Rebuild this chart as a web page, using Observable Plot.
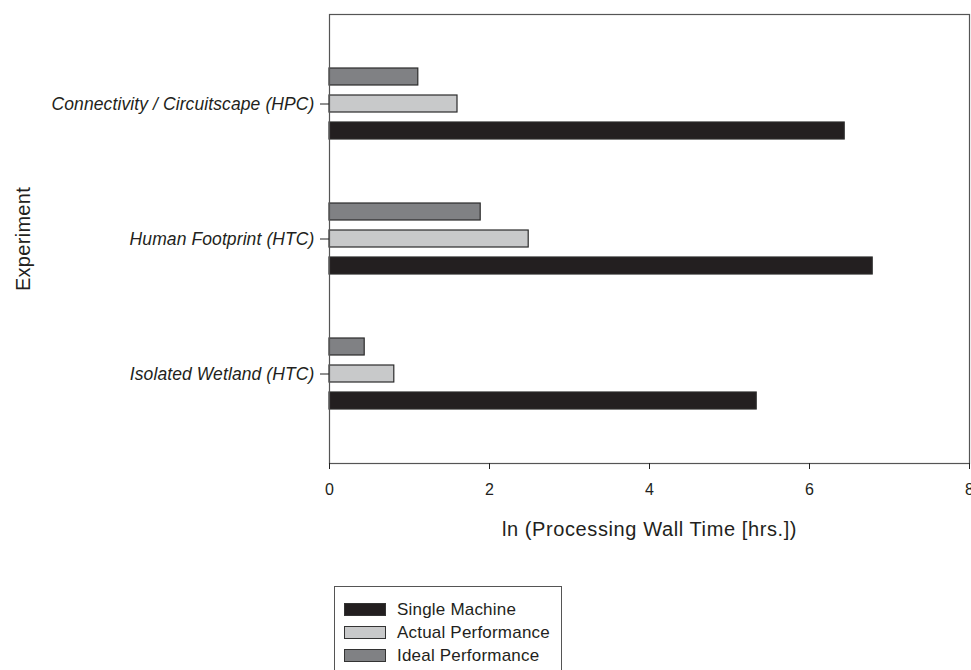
<!DOCTYPE html>
<html>
<head>
<meta charset="utf-8">
<script src="https://cdn.jsdelivr.net/npm/d3@7"></script>
<script src="https://cdn.jsdelivr.net/npm/@observablehq/plot@0.6"></script>
<style>
  html, body { margin: 0; padding: 0; background: #fff; overflow: hidden; }
  #chart svg { overflow: visible; display: block; }
  .legend { position: absolute; left: 334px; top: 586px; width: 228px; height: 100px;
    border: 1px solid #555; border-bottom: none; box-sizing: border-box;
    font-family: "Liberation Sans", Arial, sans-serif; font-size: 17px; color: #231f20; padding-top: 11px; letter-spacing: 0.2px; }
  .legend .row { display: flex; align-items: center; height: 23px; margin-left: 9px; }
  .legend .sw { width: 42px; height: 13px; border: 1.3px solid #333; box-sizing: border-box; margin-right: 11px; }
</style>
</head>
<body>
<div id="chart"></div>
<script>
const experiments = ["Connectivity / Circuitscape (HPC)", "Human Footprint (HTC)", "Isolated Wetland (HTC)"];
const series = ["Ideal Performance", "Actual Performance", "Single Machine"];
const idealPerformance = [1.11, 1.89, 0.44];
const actualPerformance = [1.60, 2.49, 0.81];
const singleMachine = [6.44, 6.79, 5.34];
const seriesColors = ["#808184", "#c8c9ca", "#231f20"];
const xTicks = [0, 2, 4, 6, 8];
const legendOrder = ["Single Machine", "Actual Performance", "Ideal Performance"];

const valuesBySeries = [idealPerformance, actualPerformance, singleMachine];
const data = [];
experiments.forEach((e, i) => series.forEach((s, j) => data.push({experiment: e, series: s, key: e + "|" + s, value: valuesBySeries[j][i]})));

// y band domain: 3 bars per experiment, 2 empty slots between groups
const yDomain = [];
experiments.forEach((e, i) => {
  series.forEach(s => yDomain.push(e + "|" + s));
  if (i < experiments.length - 1) { yDomain.push("gap" + i + "a"); yDomain.push("gap" + i + "b"); }
});
const tickKeys = experiments.map(e => e + "|" + series[1]);

const font = "'Liberation Sans', Arial, sans-serif";
const chart = Plot.plot({
  width: 971,
  height: 560,
  marginLeft: 329,
  marginRight: 2,
  marginTop: 14,
  marginBottom: 97,
  style: {fontFamily: font, color: "#231f20", background: "#fff"},
  x: {domain: [0, 8]},
  y: {domain: yDomain, paddingInner: 0.375, paddingOuter: 1.94},
  color: {domain: series, range: seriesColors},
  marks: [
    Plot.barX(data, {x: "value", y: "key", fill: "series", stroke: "#2b2b2b", strokeWidth: 1.2}),
    Plot.frame({stroke: "#555", strokeWidth: 1.2}),
    Plot.axisX({ticks: xTicks, tickSize: 6, tickPadding: 14, fontSize: 16, stroke: "#222",
      label: "ln (Processing Wall Time [hrs.])", labelAnchor: "center", labelOffset: 72, labelArrow: "none"}),
    Plot.axisY({ticks: tickKeys, tickFormat: k => k.split("|")[0], tickSize: 9, tickPadding: 6,
      fontSize: 17.5, fontStyle: "italic", stroke: "#222",
      label: "Experiment", labelAnchor: "center", labelOffset: 314, labelArrow: "none"})
  ]
});
document.getElementById("chart").appendChild(chart);
// enlarge axis label fonts
chart.querySelectorAll("[aria-label='x-axis label'], [aria-label='y-axis label']").forEach(g => g.setAttribute("font-size", 20));
chart.querySelectorAll("[aria-label='x-axis label'] text").forEach(t => { t.setAttribute("font-style", "normal"); t.style.letterSpacing = "0.6px"; });
chart.querySelectorAll("[aria-label='y-axis label'] text").forEach(t => { t.setAttribute("font-style", "normal"); t.style.letterSpacing = "0.3px"; });
chart.querySelectorAll("[aria-label='y-axis tick label'] text").forEach(t => { t.style.letterSpacing = "0.1px"; });

const legend = document.createElement("div");
legend.className = "legend";
legendOrder.forEach(s => {
  const row = document.createElement("div");
  row.className = "row";
  const sw = document.createElement("span");
  sw.className = "sw";
  sw.style.background = seriesColors[series.indexOf(s)];
  row.appendChild(sw);
  row.appendChild(document.createTextNode(s));
  legend.appendChild(row);
});
document.body.appendChild(legend);
</script>
</body>
</html>
